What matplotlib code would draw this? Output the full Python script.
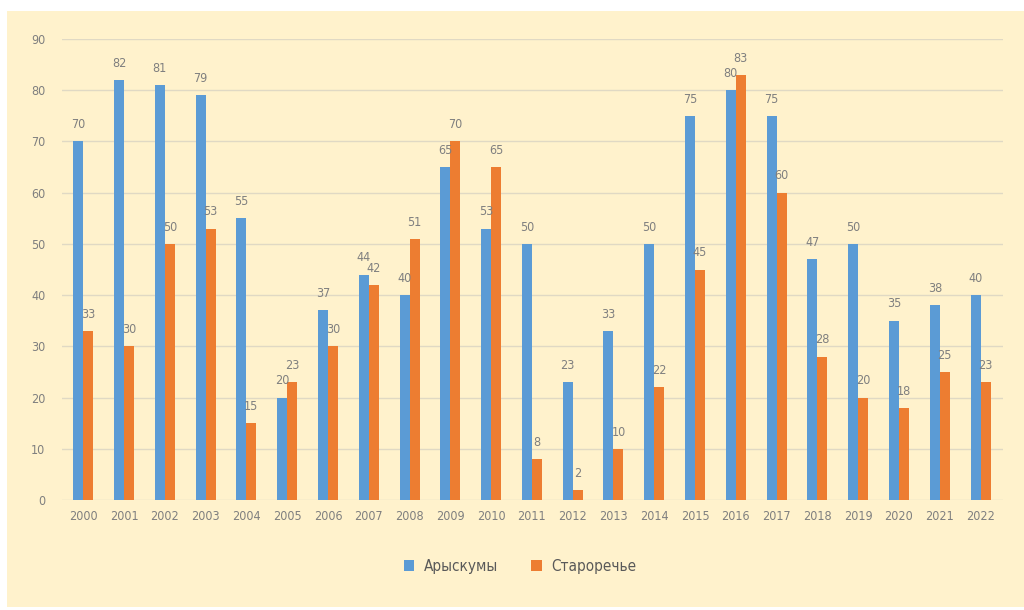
import numpy as np
import matplotlib.pyplot as plt
from matplotlib.patches import Rectangle

plt.rcParams['font.family'] = ['DejaVu Sans']
plt.rcParams['font.stretch'] = 'condensed'

# Годы и значения по двум пунктам
years = [str(y) for y in range(2000, 2023)]
aryskumy = [70, 82, 81, 79, 55, 20, 37, 44, 40, 65, 53, 50, 23, 33, 50,
            75, 80, 75, 47, 50, 35, 38, 40]
starorechye = [33, 30, 50, 53, 15, 23, 30, 42, 51, 70, 65, 8, 2, 10, 22,
               45, 83, 60, 28, 20, 18, 25, 23]
series_names = ['Арыскумы', 'Староречье']

blue = '#5B9BD5'
orange = '#ED7D31'
bg = '#FFF2CC'
txt = '#7F7F7F'

fig = plt.figure(figsize=(10.24, 6.1), dpi=100, facecolor='white')
# фон области диаграммы
fig.patches.append(Rectangle((7 / 1024, 3 / 610), 1 - 7 / 1024, 1 - 14 / 610,
                             transform=fig.transFigure, facecolor=bg,
                             edgecolor='none', zorder=-10))

ax = fig.add_axes([62 / 1024, 1 - 500 / 610, (1003 - 62) / 1024, 461 / 610])
ax.patch.set_alpha(0)

x = np.arange(len(years))
w = 0.245
b1 = ax.bar(x - w / 2, aryskumy, w, color=blue, label=series_names[0], zorder=3)
b2 = ax.bar(x + w / 2, starorechye, w, color=orange, label=series_names[1], zorder=3)

for bars in (b1, b2):
    for r in bars:
        v = r.get_height()
        ax.text(r.get_x() + r.get_width() / 2, v + 2.0, f'{int(v)}',
                ha='center', va='bottom', fontsize=9, color=txt, zorder=4)

ax.set_xlim(-0.52, len(years) - 0.45)
ax.set_ylim(0, 90)
ax.set_yticks(range(0, 91, 10))
ax.set_xticks(x)
ax.set_xticklabels(years)
ax.tick_params(axis='both', length=0, labelsize=9, labelcolor=txt)
ax.tick_params(axis='y', pad=12)
ax.tick_params(axis='x', pad=7)
ax.grid(axis='y', color='#E0D9C4', linewidth=1, zorder=1)
for s in ax.spines.values():
    s.set_visible(False)

fig.legend(loc='center', bbox_to_anchor=(520 / 1024, 1 - 566 / 610), ncol=2,
           frameon=False, fontsize=11, labelcolor='#595959',
           handlelength=0.7, handleheight=0.7, columnspacing=2.2,
           handletextpad=0.6)

fig.savefig('out.png', dpi=100, facecolor='white')
